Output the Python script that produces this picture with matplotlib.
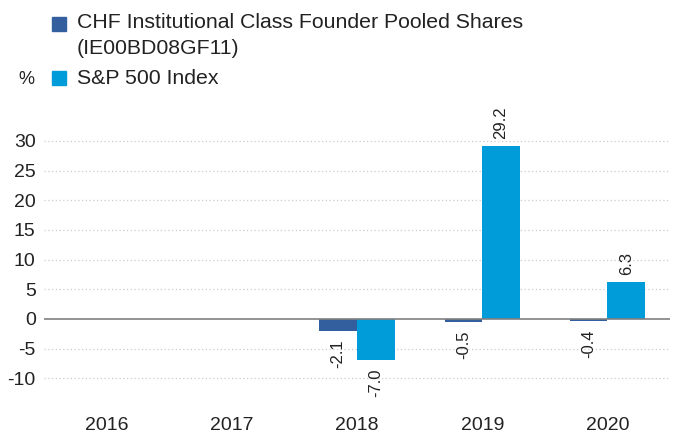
import numpy as np
import matplotlib
matplotlib.use("Agg")
import matplotlib.pyplot as plt
from matplotlib.patches import Rectangle

years = ["2016", "2017", "2018", "2019", "2020"]
fund = [np.nan, np.nan, -2.1, -0.5, -0.4]
index = [np.nan, np.nan, -7.0, 29.2, 6.3]
fund_label = "CHF Institutional Class Founder Pooled Shares\n(IE00BD08GF11)"
index_label = "S&P 500 Index"
yticks = [-10, -5, 0, 5, 10, 15, 20, 25, 30]

c_fund = "#335f9f"
c_index = "#009bd9"

plt.rcParams['font.family'] = ['Liberation Sans', 'DejaVu Sans']

W, H = 673, 434
fig = plt.figure(figsize=(W/100, H/100), dpi=100)
ax = fig.add_axes([44/W, 1-405/H, 626/W, 295/H])

x = np.arange(len(years))
bw = 0.3
b1 = ax.bar(x - bw/2, fund, bw, color=c_fund, zorder=3)
b2 = ax.bar(x + bw/2, index, bw, color=c_index, zorder=3)

for bars, vals in ((b1, fund), (b2, index)):
    for rect, v in zip(bars, vals):
        if np.isnan(v):
            continue
        cx = rect.get_x() + rect.get_width()/2
        if v >= 0:
            ax.annotate(f"{v:.1f}", (cx, v), xytext=(0, 5), textcoords="offset points",
                        rotation=90, ha="center", va="bottom", fontsize=12, color="#222222")
        else:
            ax.annotate(f"{v:.1f}", (cx, v), xytext=(0, -6), textcoords="offset points",
                        rotation=90, ha="center", va="top", fontsize=12, color="#222222")

ax.set_xlim(-0.5, 4.5)
ax.set_ylim(-14.5, 35.2)
ax.set_yticks(yticks)
ax.set_yticklabels([str(t) for t in yticks])
ax.set_xticks(x)
ax.set_xticklabels(years)
ax.tick_params(axis='both', length=0, labelsize=14, colors="#222222")
ax.tick_params(axis='y', pad=6)
ax.tick_params(axis='x', pad=9)
for s in ax.spines.values():
    s.set_visible(False)
for t in yticks:
    if t == 0:
        ax.axhline(0, color="#808080", lw=1.2, zorder=4)
    else:
        ax.axhline(t, color="#cccccc", lw=0.9, ls=(0, (1, 2)), zorder=1)

def fx(px): return px / W
def fy(py): return 1 - py / H

fig.patches.append(Rectangle((fx(52), fy(31)), 14/W, 14/H, transform=fig.transFigure,
                             color=c_fund, figure=fig))
fig.patches.append(Rectangle((fx(52), fy(85)), 14/W, 14/H, transform=fig.transFigure,
                             color=c_index, figure=fig))
fig.text(fx(77), fy(23), "CHF Institutional Class Founder Pooled Shares", fontsize=15.3,
         va="center", ha="left", color="#222222")
fig.text(fx(77), fy(49), "(IE00BD08GF11)", fontsize=15.3, va="center", ha="left", color="#222222")
fig.text(fx(77), fy(78), index_label, fontsize=15.3, va="center", ha="left", color="#222222")
fig.text(fx(18), fy(80), "%", fontsize=13, va="center", ha="left", color="#222222")

fig.savefig("out.png", dpi=100)
